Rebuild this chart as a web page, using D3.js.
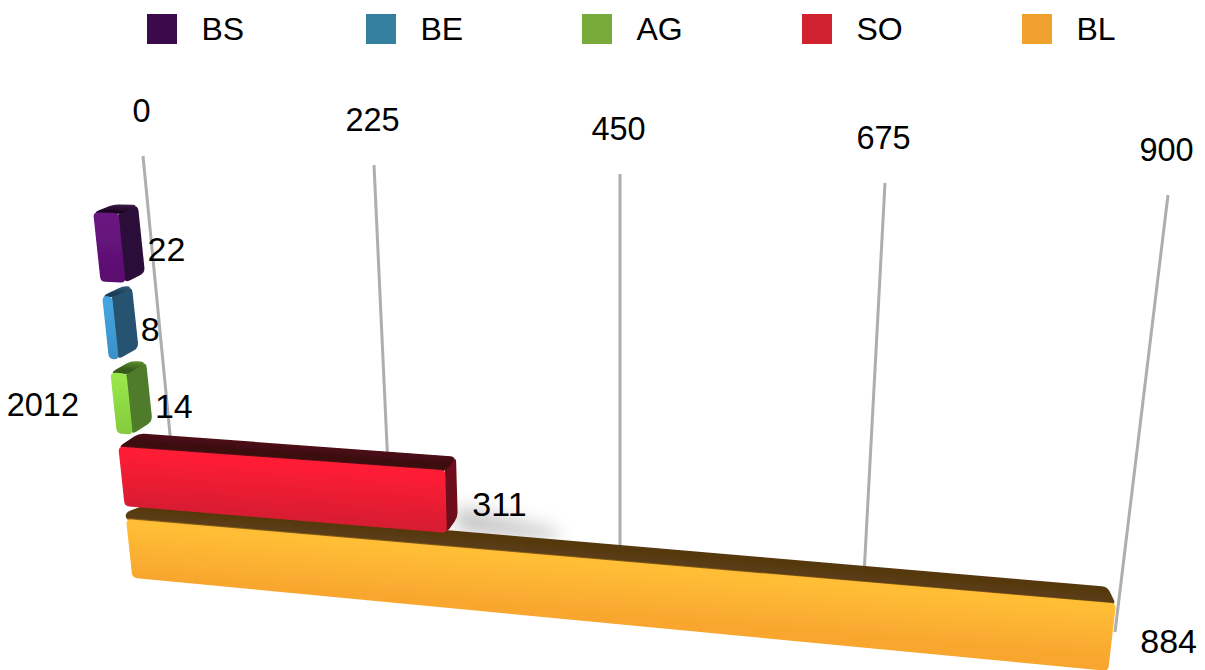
<!DOCTYPE html>
<html><head><meta charset="utf-8">
<script src="https://cdn.jsdelivr.net/npm/d3@7/dist/d3.min.js"></script>
<style>html,body{margin:0;padding:0;background:#fff}svg{display:block}text{font-family:"Liberation Sans",Arial,sans-serif;fill:#000}</style>
</head><body><svg id="c" width="1205" height="670"></svg>
<script>
const categories = ["BS","BE","AG","SO","BL"];
const values = [22,8,14,311,884];
const tickValues = [0,225,450,675,900];
const yearLabel = ["2012"];
const legendColors = ["#3a0a4a","#34809f","#78ab3a","#d0222e","#f0a02c"];
const faceColors = {
  BS:{front:["#6a1480","#5a0f6e"],side:"#2c0c38",top:["#3a1644","#1e0626","#1e0626"]},
  BE:{front:["#45a5e0","#3a90c8"],side:"#265270",top:["#2c5a78","#1a3c52","#1a3c52"]},
  AG:{front:["#98e64a","#84cc3c"],side:"#4f7c2a",top:["#5a8a2e","#355a1a","#355a1a"]},
  SO:{front:["#ff1d36","#d81b30"],side:"#6e0e1a",top:["#4c0c14","#3a0a10","#7a1020"]},
  BL:{front:["#ffbe36","#f8a62e"],side:"#ffa92e",top:["#553710","#5a3c12","#c08a20"]}
};

const svg = d3.select("#c"), defs = svg.append("defs");
defs.append("filter").attr("id","soft").append("feGaussianBlur").attr("stdDeviation",0.6);
const sh = defs.append("filter").attr("id","shadow").attr("x","-30%").attr("y","-100%").attr("width","160%").attr("height","300%");
sh.append("feGaussianBlur").attr("stdDeviation",9);

// axis-plane scales
const gridTopX = d3.scaleLinear().domain(tickValues).range([143,374,620,885,1168]);
const gridTopY = d3.scaleLinear().domain(tickValues).range([156,165,174,183,195]);
const gridBotX = d3.scaleLinear().domain(tickValues).range([182,393,620,862,1115]);
const gridBotY = d3.scaleLinear().domain(tickValues).range([558,575,592,612,632]);
// perspective fraction along the value axis
const u = v => (gridTopX(v)-gridTopX(0))/(gridTopX(900)-gridTopX(0));
// rows
const band = d3.scaleBand().domain(categories).range([0,1]).paddingInner(0.2);
const warp = d3.scalePow().exponent(0.937).domain([0,1]).range([0,1]);

// bilinear box projection; f = value fraction, r = row fraction, z = 0 front / 1 back
const frontC = {a:[94,213],b:[1178,251],c:[133,577],d:[1127,672]};
const backO  = {a:[20,-8],b:[-9,-10],c:[20,-16],d:[-9,-18]};
function project(v,r,z){
  const f=u(v), w=warp(r);
  return [0,1].map(i=>{
    const top=frontC.a[i]+z*backO.a[i], tr=frontC.b[i]+z*backO.b[i];
    const bot=frontC.c[i]+z*backO.c[i], br=frontC.d[i]+z*backO.d[i];
    const l=top+(bot-top)*w, rr=tr+(br-tr)*w;
    return l+(rr-l)*f;
  });
}
const poly = pts => "M"+pts.map(p=>p.join(",")).join("L")+"Z";
// polygon with softened corners
function rounded(pts,rad){
  const n=pts.length, p=d3.path();
  pts.forEach((c,i)=>{
    const a=pts[(i+n-1)%n], b=pts[(i+1)%n];
    const la=Math.hypot(a[0]-c[0],a[1]-c[1])||1, lb=Math.hypot(b[0]-c[0],b[1]-c[1])||1;
    const ra=Math.min(rad,la/2), rb=Math.min(rad,lb/2);
    const s=[c[0]+(a[0]-c[0])*ra/la,c[1]+(a[1]-c[1])*ra/la];
    const e=[c[0]+(b[0]-c[0])*rb/lb,c[1]+(b[1]-c[1])*rb/lb];
    if(i===0)p.moveTo(s[0],s[1]);else p.lineTo(s[0],s[1]);
    p.quadraticCurveTo(c[0],c[1],e[0],e[1]);
  });
  p.closePath();
  return p.toString();
}

function gradient(id,a,edgeEnd,b,stops){
  // runs normal to the edge a->edgeEnd, reaching the opposite corner b
  const ex=edgeEnd[0]-a[0], ey=edgeEnd[1]-a[1], L=Math.hypot(ex,ey)||1;
  const nx=-ey/L, ny=ex/L, d=(b[0]-a[0])*nx+(b[1]-a[1])*ny;
  const g=defs.append("linearGradient").attr("id",id).attr("gradientUnits","userSpaceOnUse")
    .attr("x1",a[0]).attr("y1",a[1]).attr("x2",a[0]+nx*d).attr("y2",a[1]+ny*d);
  stops.forEach(s=>g.append("stop").attr("offset",s[0]).attr("stop-color",s[1]));
  return `url(#${id})`;
}

// grid
svg.append("g").selectAll("line").data(tickValues).join("line")
  .attr("x1",gridTopX).attr("y1",gridTopY).attr("x2",gridBotX).attr("y2",gridBotY)
  .attr("stroke","#aeaeae").attr("stroke-width",3);

// tick labels
svg.append("g").selectAll("text").data(tickValues).join("text")
  .attr("x",d=>gridTopX(d)-1.5).attr("y",d=>gridTopY(d)-46).attr("dy","0.36em")
  .attr("text-anchor","middle").attr("font-size",32.5).text(d=>d);

// legend
const legendX = d3.scaleOrdinal().domain(categories).range([147,366,582,802,1022]);
const lg = svg.append("g").selectAll("g").data(categories).join("g")
  .attr("transform",d=>`translate(${legendX(d)},14)`);
lg.append("rect").attr("width",30).attr("height",30).attr("fill",(d,i)=>legendColors[i]);
lg.append("text").attr("x",54.5).attr("y",14).attr("dy","0.36em").attr("font-size",32).text(d=>d);

// soft shadow to the right of the red bar (beneath all bars)
const barsG = svg.append("g");
const soV=values[categories.indexOf("SO")], soR1=band("SO")+band.bandwidth(), blR0=band("BL");
barsG.append("path")
  .attr("d",poly([project(soV,soR1-0.03,1),project(soV+95,soR1+0.015,1),project(soV+95,blR0,1),project(soV,blR0,1)]))
  .attr("fill","#9a9a9a").attr("opacity",0.6).attr("filter","url(#shadow)");

// bars, nearest row first so the upper bars sit on top
[...categories].reverse().forEach(c=>{
  const i=categories.indexOf(c), v=values[i], r0=band(c), r1=r0+band.bandwidth(), col=faceColors[c];
  const F=(val,r)=>project(val,r,0), B=(val,r)=>project(val,r,1);
  const g=barsG.append("g").attr("filter","url(#soft)");
  const fTL=F(0,r0),fTR=F(v,r0),fBL=F(0,r1),fBR=F(v,r1);
  const bTL=B(0,r0),bTR=B(v,r0),bBR=B(v,r1);
  const topFill=gradient("top"+c,bTL,bTR,fTL,[[0,col.top[0]],[0.65,col.top[1]],[0.85,col.top[1]],[1,col.top[2]]]);
  const frontFill=gradient("fr"+c,fTL,fTR,fBL,[[0,col.front[0]],[0.08,col.front[0]],[1,col.front[1]]]);
  // the side is hidden behind the front when it leans left, so it goes first
  if(bTR[0]>fTR[0]) g.append("path").attr("d",rounded([fTR,bTR,bBR,fBR],5)).attr("fill",col.side).attr("stroke",col.side).attr("stroke-width",1.5).attr("stroke-linejoin","round");
  const topPts=[bTL,bTR,fTR,fTL];
  if(c==="BL") topPts.push(F(0,r0-0.02));
  g.append("path").attr("d",rounded(topPts,5)).attr("fill",topFill).attr("stroke",topFill).attr("stroke-width",1.5).attr("stroke-linejoin","round");
  g.append("path").attr("d",rounded([fTL,fTR,fBR,fBL],4)).attr("fill",frontFill).attr("stroke",frontFill).attr("stroke-width",1.5).attr("stroke-linejoin","round");
});

// value labels
const labelDy=d3.scaleLinear().domain([0,1]).range([-1,3.5]);
const labelDx=d3.scaleLinear().domain([0,900]).range([26,29]);
const mid=c=>band(c)+band.bandwidth()/2;
svg.append("g").selectAll("text").data(categories).join("text")
  .attr("x",(c,i)=>project(values[i],mid(c),0)[0]+labelDx(values[i]))
  .attr("y",(c,i)=>project(values[i],mid(c),0)[1]+labelDy(mid(c)))
  .attr("dy","0.36em").attr("font-size",34).text((c,i)=>values[i]);

// category label
svg.append("text").attr("x",79).attr("y",404).attr("dy","0.36em").attr("text-anchor","end").attr("font-size",32.5).text(yearLabel[0]);
</script></body></html>
